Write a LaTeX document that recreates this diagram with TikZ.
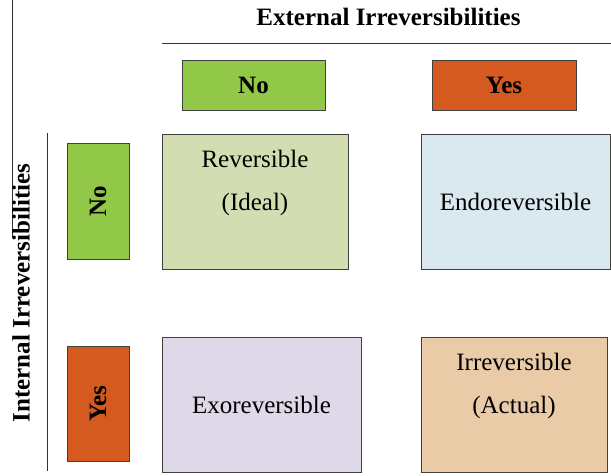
\documentclass[tikz,border=0pt]{standalone}
\usepackage{fontspec}
\setmainfont{Liberation Serif}

\definecolor{noGreen}{RGB}{146,200,72}
\definecolor{yesOrange}{RGB}{213,90,32}
\definecolor{idealGreen}{RGB}{210,222,178}
\definecolor{endoBlue}{RGB}{218,232,240}
\definecolor{exoLilac}{RGB}{223,216,232}
\definecolor{actualPeach}{RGB}{233,203,167}

\tikzset{
  rule/.style={line width=0.8pt, black!80},
  headtext/.style={font=\bfseries\fontsize{25}{30}\selectfont},
  answerbox/.style={headtext, shape=rectangle, draw=black!75, line width=0.8pt,
    inner sep=0pt, minimum width=143pt, minimum height=50pt},
  sidebox/.style={answerbox, rotate=90, minimum width=116pt, minimum height=62pt},
  cellbox/.style={shape=rectangle, draw=black!75, line width=0.8pt, inner sep=0pt,
    minimum height=135pt, align=center, font=\fontsize{25}{43}\selectfont}
}

\begin{document}
\begin{tikzpicture}[x=1pt, y=-1pt]
\useasboundingbox (0,0) rectangle (611,475);

% axis rules
\draw[rule] (12,0) -- (12,238);
\draw[rule, line width=1pt] (47,133) -- (47,471);
\draw[rule] (162,43) -- (611,43);

% external irreversibilities (columns)
\node[headtext, anchor=base] (extTitle) at (388.5,25) {External Irreversibilities};
\node[answerbox, fill=noGreen] (extNo) at (253.5,85) {No};
\node[answerbox, fill=yesOrange, minimum width=144pt] (extYes) at (504,85) {Yes};

% internal irreversibilities (rows)
\node[headtext, rotate=90] (intTitle) at (21,293) {Internal Irreversibilities};
\node[sidebox, fill=noGreen] (intNo) at (98,201) {No};
\node[sidebox, fill=yesOrange, minimum width=115pt] (intYes) at (98,403.5) {Yes};

% the four cases
\node[cellbox, fill=idealGreen, minimum width=186pt] (revBox) at (255,201.5)
  {Reversible\\(Ideal)\\\mbox{}};
\node[cellbox, fill=endoBlue, minimum width=189pt] (endoBox) at (515.5,201.5)
  {Endoreversible};
\node[cellbox, fill=exoLilac, minimum width=199pt] (exoBox) at (261.5,404.5)
  {Exoreversible};
\node[cellbox, fill=actualPeach, minimum width=186pt] (irrBox) at (514,404.5)
  {Irreversible\\(Actual)\\\mbox{}};
\end{tikzpicture}
\end{document}
